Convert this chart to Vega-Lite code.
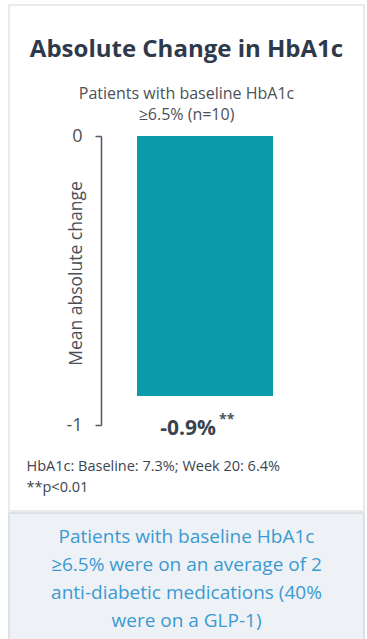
{
  "$schema": "https://vega.github.io/schema/vega-lite/v6.json",
  "padding": {"left": 8, "top": 4, "right": 0, "bottom": 0},
  "background": "white",
  "spacing": 0,
  "config": {"font": "Open Sans", "concat": {"spacing": 0}},
  "vconcat": [
    {
      "width": 355,
      "height": 506,
      "view": {"stroke": "#E1E4E8", "strokeWidth": 1.5, "fill": "white"},
      "title": {
        "text": "Absolute Change in HbA1c",
        "subtitle": ["Patients with baseline HbA1c", "≥6.5% (n=10)"],
        "font": "Open Sans",
        "fontSize": 24,
        "fontWeight": "bold",
        "color": "#2E3A4C",
        "subtitleFont": "Open Sans",
        "subtitleFontSize": 16,
        "subtitleColor": "#4B5158",
        "subtitlePadding": 24,
        "subtitleLineHeight": 21,
        "anchor": "middle",
        "frame": "group",
        "offset": -118
      },
      "data": {"values": [{"group": "Patients with baseline HbA1c ≥6.5%", "change": -0.9, "label": "-0.9%", "sig": "**"}]},
      "encoding": {
        "x": {
          "field": "group",
          "type": "nominal",
          "scale": {"type": "band", "range": [128, 264], "paddingInner": 0, "paddingOuter": 0},
          "axis": {
            "title": ["HbA1c: Baseline: 7.3%; Week 20: 6.4%", "**p<0.01"],
            "domain": false,
            "ticks": false,
            "labels": false,
            "grid": false,
            "minExtent": 0,
            "titleX": 17,
            "titleY": -41,
            "titleAlign": "left",
            "titleAnchor": "start",
            "titleBaseline": "alphabetic",
            "titleFont": "Open Sans",
            "titleFontSize": 14.5,
            "titleFontWeight": "normal",
            "titleColor": "#3D4450",
            "titleLineHeight": 21
          }
        },
        "y": {
          "field": "change",
          "type": "quantitative",
          "scale": {"domain": [-1, 0], "range": [420, 131], "nice": false, "zero": true},
          "axis": {
            "values": [0, -1],
            "labelExpr": "'' + datum.value",
            "offset": -92,
            "minExtent": 0,
            "grid": false,
            "domainColor": "#4D5866",
            "domainWidth": 1.5,
            "tickColor": "#4D5866",
            "tickWidth": 1.5,
            "tickSize": 6,
            "labelFont": "Open Sans",
            "labelFontSize": 18,
            "labelColor": "#4A4F57",
            "labelPadding": 13,
            "title": "Mean absolute change",
            "titleFont": "Open Sans",
            "titleFontSize": 17.5,
            "titleFontWeight": "normal",
            "titleColor": "#4A4F57",
            "titleAngle": 270,
            "titleX": -25,
            "titleY": 268,
            "titleAlign": "center",
            "titleBaseline": "middle"
          }
        }
      },
      "layer": [
        {"mark": {"type": "bar", "color": "#0B9BAA"}},
        {
          "mark": {"type": "text", "align": "right", "baseline": "alphabetic", "dx": 11, "dy": 39, "fontSize": 21, "fontWeight": "bold", "color": "#3A4350"},
          "encoding": {"text": {"field": "label"}}
        },
        {
          "mark": {"type": "text", "align": "left", "baseline": "alphabetic", "dx": 14, "dy": 28, "fontSize": 14, "fontWeight": "bold", "color": "#4A5360"},
          "encoding": {"text": {"field": "sig"}}
        }
      ]
    },
    {
      "width": 355,
      "height": 129,
      "view": {"fill": "#EEF2F6", "stroke": "#D5DADF", "strokeWidth": 1.5},
      "data": {"values": [
        {"line": 1, "text": "Patients with baseline HbA1c"},
        {"line": 2, "text": "≥6.5% were on an average of 2"},
        {"line": 3, "text": "anti-diabetic medications (40%"},
        {"line": 4, "text": "were on a GLP-1)"}
      ]},
      "mark": {"type": "text", "fontSize": 19, "color": "#3B9AD2", "align": "center", "baseline": "middle"},
      "encoding": {
        "y": {"field": "line", "type": "ordinal", "scale": {"type": "point", "padding": 0.8, "align": 0.53}, "axis": null},
        "text": {"field": "text"}
      }
    }
  ]
}
